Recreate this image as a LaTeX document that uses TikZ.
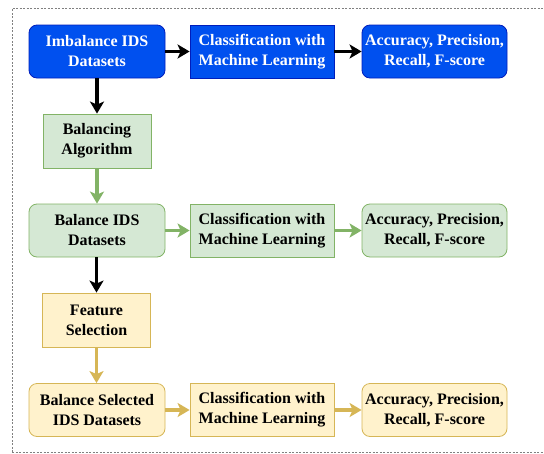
\documentclass[tikz,border=0pt]{standalone}
\usepackage{fontspec}
\setmainfont{Liberation Serif}[BoldFont={Liberation Serif Bold}]
\usepackage{tikz}
\usetikzlibrary{positioning}
\usetikzlibrary{arrows.meta}

\definecolor{blueFill}{HTML}{0050EF}
\definecolor{blueLine}{HTML}{001DBC}
\definecolor{greenFill}{HTML}{D5E8D4}
\definecolor{greenLine}{HTML}{82B366}
\definecolor{yellowFill}{HTML}{FFF2CC}
\definecolor{yellowLine}{HTML}{D6B656}

\begin{document}
\begin{tikzpicture} [x=1pt, y=-1pt]
    % box and arrow styles
    \tikzstyle{box} = [draw, line width=0.8pt, align=center, inner sep=1pt,
        font=\rmfamily\bfseries\fontsize{16}{20}\selectfont, minimum height=53pt]
    \tikzstyle{wide} = [box, minimum width=136pt, rounded corners=8pt]
    \tikzstyle{clf} = [box, minimum width=144pt]
    \tikzstyle{res} = [box, minimum width=145pt, rounded corners=8pt]
    \tikzstyle{step1} = [box, minimum width=108pt, minimum height=54pt]
    \tikzstyle{blue} = [fill=blueFill, draw=blueLine, text=white]
    \tikzstyle{green} = [fill=greenFill, draw=greenLine]
    \tikzstyle{yellow} = [fill=yellowFill, draw=yellowLine]
    \tikzstyle{arr} = [line width=3.6pt, -{Stealth[length=12pt, width=14pt, inset=3pt]}]

    \useasboundingbox (0, 0) rectangle (544, 453);

    % dashed frame
    \draw[gray, line width=0.6pt, dash pattern=on 2pt off 1.5pt]
        (12, 452) -- (12, 8) -- (546, 8);
    \draw[gray, line width=0.6pt, dash pattern=on 2pt off 1.5pt]
        (12, 452) -- (546, 452);

    % first row: imbalanced data
    \node (imb) [wide, blue] at (97, 51.5) {Imbalance IDS\\Datasets};
    \node (clfA) [clf, blue] at (262, 51.5) {Classification with\\Machine Learning};
    \node (resA) [res, blue] at (434.5, 51.5) {Accuracy, Precision,\\Recall, F-score};

    % balancing
    \node (bal) [step1, green] at (97, 141) {Balancing\\Algorithm};

    % second row: balanced data
    \node (balds) [wide, green] at (97, 230.5) {Balance IDS\\Datasets};
    \node (clfB) [clf, green] at (262, 230.5) {Classification with\\Machine Learning};
    \node (resB) [res, green] at (434.5, 230.5) {Accuracy, Precision,\\Recall, F-score};

    % feature selection
    \node (feat) [step1, yellow] at (96.5, 320) {Feature\\Selection};

    % third row: balanced and selected data
    \node (sel) [wide, yellow] at (97, 410) {Balance Selected\\IDS Datasets};
    \node (clfC) [clf, yellow] at (262, 410) {Classification with\\Machine Learning};
    \node (resC) [res, yellow] at (434.5, 410) {Accuracy, Precision,\\Recall, F-score};

    % arrows
    \draw[arr] (imb) -- (clfA);
    \draw[arr] (clfA) -- (resA);
    \draw[arr] (imb) -- (bal);
    \draw[arr, greenLine] (bal) -- (balds);
    \draw[arr, greenLine] (balds) -- (clfB);
    \draw[arr, greenLine] (clfB) -- (resB);
    \draw[arr] (balds.south -| feat) -- (feat);
    \draw[arr, yellowLine] (feat) -- (sel.north -| feat);
    \draw[arr, yellowLine] (sel) -- (clfC);
    \draw[arr, yellowLine] (clfC) -- (resC);
\end{tikzpicture}
\end{document}
